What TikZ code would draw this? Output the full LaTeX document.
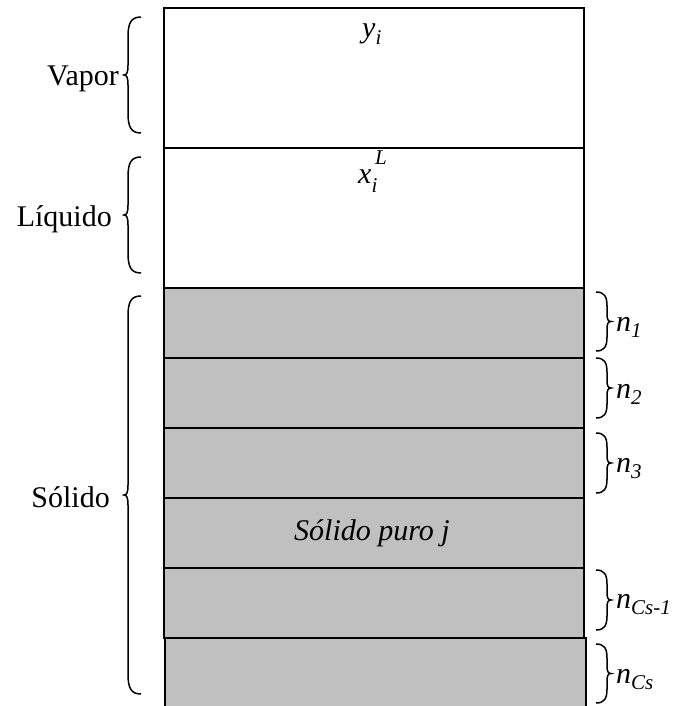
\documentclass[tikz,border=0pt]{standalone}
\usepackage{fontspec}
\setmainfont{Liberation Serif}
\newcommand{\mylbrace}[3]{% hook x, y1, y2
  \draw[brc] (#1,#2) .. controls (#1-10,#2) and (#1-13,#2+6) .. (#1-13,#2+20)
    -- ({#1-13},{(#2+#3)/2-10}) .. controls ({#1-13},{(#2+#3)/2-3}) and ({#1-14},{(#2+#3)/2}) .. ({#1-17},{(#2+#3)/2})
    .. controls ({#1-14},{(#2+#3)/2}) and ({#1-13},{(#2+#3)/2+3}) .. ({#1-13},{(#2+#3)/2+10})
    -- (#1-13,#3-20) .. controls (#1-13,#3-6) and (#1-10,#3) .. (#1,#3);}
\newcommand{\myrbrace}[3]{% hook x, y1, y2
  \draw[brc] (#1,#2) .. controls (#1+8,#2) and (#1+11,#2+4) .. (#1+11,#2+14)
    -- ({#1+11},{(#2+#3)/2-8}) .. controls ({#1+11},{(#2+#3)/2-2}) and ({#1+12},{(#2+#3)/2}) .. ({#1+15},{(#2+#3)/2})
    .. controls ({#1+12},{(#2+#3)/2}) and ({#1+11},{(#2+#3)/2+2}) .. ({#1+11},{(#2+#3)/2+8})
    -- (#1+11,#3-14) .. controls (#1+11,#3-4) and (#1+8,#3) .. (#1,#3);}
\begin{document}
\begin{tikzpicture}[x=1pt,y=-1pt,
  lay/.style={draw=black,line width=2pt,inner sep=0pt,anchor=north west,minimum width=420pt},
  brc/.style={draw,line width=1.5pt},
  lbl/.style={font=\fontsize{30}{34}\selectfont,inner sep=0pt},
  ilbl/.style={font=\fontsize{30}{34}\selectfont\itshape,inner sep=0pt}]
\useasboundingbox (0,0) rectangle (677,706);
\definecolor{solidgray}{HTML}{C0C0C0}
\newcommand{\sub}[1]{\raisebox{-0.22em}{\fontsize{21}{23}\selectfont #1}}
\begin{scope}
\clip (0,0) rectangle (677,706);
\node[lay,minimum height=140pt] (vap) at (163,7) {};
\node[lay,minimum height=140pt] (liq) at (163,147) {};
\node[lay,fill=solidgray,minimum height=70pt] (s1) at (163,287) {};
\node[lay,fill=solidgray,minimum height=70pt] (s2) at (163,357) {};
\node[lay,fill=solidgray,minimum height=70pt] (s3) at (163,427) {};
\node[lay,fill=solidgray,minimum height=70pt] (sj) at (163,497) {};
\node[lay,fill=solidgray,minimum height=70pt] (s5) at (163,567) {};
\node[lay,fill=solidgray,minimum width=421pt,minimum height=75pt] (s6) at (164,637) {};
\end{scope}
% texts in boxes
\node[ilbl,anchor=base west] (yi) at (362,38) {y\sub{i}};
\node[ilbl,anchor=base west] (xi) at (358,183) {x\rlap{\raisebox{-0.3em}{\fontsize{21}{23}\selectfont i}}\raisebox{0.62em}{\fontsize{21}{23}\selectfont \,L}};
\node[ilbl,anchor=base] (spj) at (372,540) {Sólido puro j};
% left braces
\mylbrace{141}{17}{133}
\mylbrace{141}{157}{273}
\mylbrace{141}{296}{694}
\node[lbl,anchor=base east] (vapor) at (119,86) {Vapor};
\node[lbl,anchor=base east] (liquido) at (112,226) {Líquido};
\node[lbl,anchor=base east] (solido) at (110,507) {Sólido};
% right braces
\myrbrace{596}{292}{351}
\myrbrace{596}{358}{418}
\myrbrace{596}{433}{493}
\myrbrace{596}{570}{630}
\myrbrace{596}{644}{703}
\node[ilbl,anchor=base west] (n1) at (616,331) {n\sub{1}};
\node[ilbl,anchor=base west] (n2) at (616,398) {n\sub{2}};
\node[ilbl,anchor=base west] (n3) at (616,472) {n\sub{3}};
\node[ilbl,anchor=base west] (ncs1) at (616,608) {n\sub{Cs-1}};
\node[ilbl,anchor=base west] (ncs) at (616,683) {n\sub{Cs}};
\end{tikzpicture}
\end{document}
